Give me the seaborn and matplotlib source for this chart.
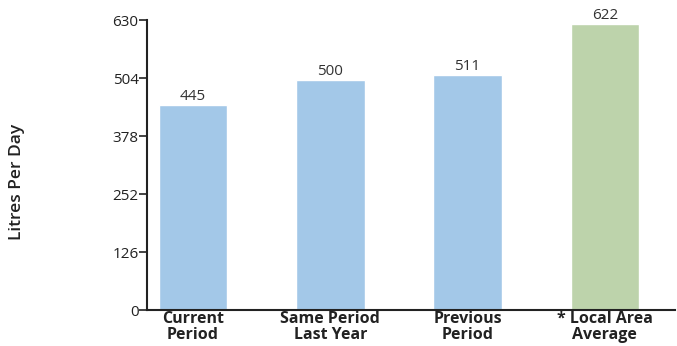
import matplotlib
matplotlib.use('Agg')
import matplotlib.pyplot as plt
import seaborn as sns
import pandas as pd

# Data
categories = ['Current\nPeriod', 'Same Period\nLast Year', 'Previous\nPeriod', '* Local Area\nAverage']
litres = [445, 500, 511, 622]
bar_colors = ['#a3c8e8', '#a3c8e8', '#a3c8e8', '#bdd3ab']
y_ticks = [0, 126, 252, 378, 504, 630]

df = pd.DataFrame({'period': categories, 'litres': litres})

sns.set_style('white')
plt.rcParams['font.family'] = ['Open Sans', 'DejaVu Sans']

fig = plt.figure(figsize=(6.77, 3.46), dpi=100)
ax = fig.add_axes([0.217, 0.104, 0.78, 0.838])

sns.barplot(data=df, x='period', y='litres', hue='period', palette=bar_colors,
            legend=False, width=0.5, ax=ax, saturation=1)

# value labels on top of bars
for i, v in enumerate(litres):
    ax.text(i, v + 2, str(v), ha='center', va='bottom', fontsize=11, color='#333333')

ax.set_ylim(0, 630)
ax.set_xlim(-0.335, 3.51)
ax.set_yticks(y_ticks)
ax.set_yticklabels([str(t) for t in y_ticks], fontsize=11, color='#222222')
ax.tick_params(axis='y', direction='out', length=6, width=1.2, color='#222222', pad=0, left=True)
ax.tick_params(axis='x', length=0, pad=1)
for lab in ax.get_xticklabels():
    lab.set_fontsize(11.5)
    lab.set_fontweight('bold')
    lab.set_color('#222222')
    lab.set_linespacing(0.95)

ax.spines['right'].set_visible(False)
ax.spines['top'].set_visible(False)
ax.spines['left'].set_color('#222222')
ax.spines['bottom'].set_color('#222222')
ax.spines['left'].set_linewidth(1.5)
ax.spines['bottom'].set_linewidth(1.5)

ax.set_xlabel('')
ax.set_ylabel('')
fig.text(0.025, 0.474, 'Litres Per Day', rotation=90, ha='center', va='center',
         fontsize=12.5, fontweight='semibold', color='#222222')

plt.savefig('out.png', dpi=100)
